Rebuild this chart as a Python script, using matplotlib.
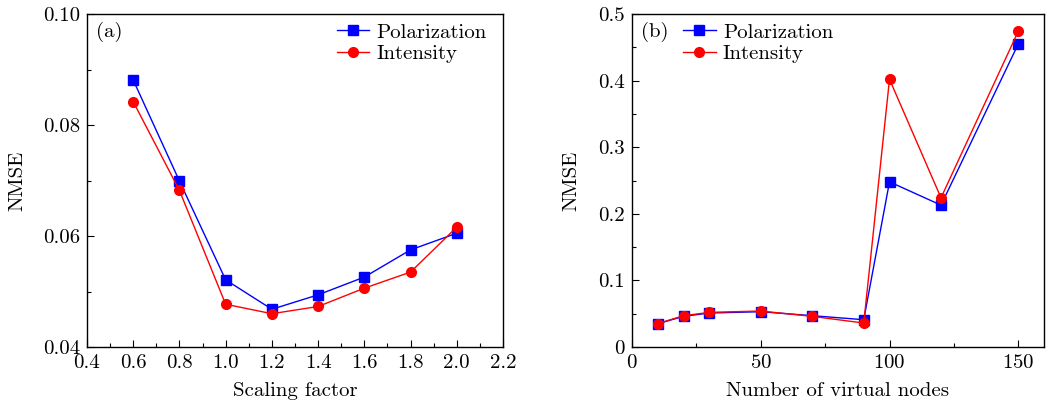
import matplotlib
matplotlib.use("Agg")
import matplotlib.pyplot as plt
from matplotlib.ticker import MultipleLocator, AutoMinorLocator, FormatStrFormatter, FuncFormatter

plt.rcParams["font.family"] = "serif"
plt.rcParams["font.serif"] = ["cmr10"]
plt.rcParams["mathtext.fontset"] = "cm"
plt.rcParams["axes.formatter.use_mathtext"] = True

# (a) NMSE vs scaling factor
scaling = [0.6, 0.8, 1.0, 1.2, 1.4, 1.6, 1.8, 2.0]
pol_a = [0.0881, 0.0699, 0.0521, 0.0468, 0.0494, 0.0526, 0.0575, 0.0605]
int_a = [0.0842, 0.0682, 0.0477, 0.0460, 0.0473, 0.0506, 0.0535, 0.0616]

# (b) NMSE vs number of virtual nodes
nodes = [10, 20, 30, 50, 70, 90, 100, 120, 150]
pol_b = [0.035, 0.046, 0.051, 0.053, 0.047, 0.041, 0.248, 0.213, 0.455]
int_b = [0.035, 0.047, 0.052, 0.054, 0.046, 0.036, 0.402, 0.224, 0.474]

W, H = 1046, 405
fig = plt.figure(figsize=(W / 100, H / 100), dpi=100)
ax1 = fig.add_axes([87 / W, (H - 347) / H, (503 - 87) / W, 333 / H])
ax2 = fig.add_axes([632 / W, (H - 347) / H, (1044 - 632) / W, 333 / H])

fs = 15
for ax, x, p, i, tag in [(ax1, scaling, pol_a, int_a, "(a)"),
                          (ax2, nodes, pol_b, int_b, "(b)")]:
    ax.plot(x, p, color="#0000ff", marker="s", ms=6.5, lw=1.0, label="Polarization")
    ax.plot(x, i, color="#ff0000", marker="o", ms=7, lw=1.0, label="Intensity")
    ax.tick_params(which="both", direction="in", labelsize=fs, top=False, right=False)
    ax.tick_params(which="major", length=5, width=0.8, pad=5)
    ax.tick_params(which="minor", length=3, width=0.8)
    ax.set_ylabel("NMSE", fontsize=fs)
    ax.text(0.022, 0.975, tag, transform=ax.transAxes, fontsize=fs, va="top", ha="left")
    for s in ax.spines.values():
        s.set_linewidth(1.0)

ax1.set_xlim(0.4, 2.2)
ax1.set_ylim(0.04, 0.10)
ax1.xaxis.set_major_locator(MultipleLocator(0.2))
ax1.xaxis.set_minor_locator(AutoMinorLocator(2))
ax1.yaxis.set_major_locator(MultipleLocator(0.02))
ax1.yaxis.set_minor_locator(AutoMinorLocator(2))
ax1.xaxis.set_major_formatter(FormatStrFormatter("%.1f"))
ax1.yaxis.set_major_formatter(FormatStrFormatter("%.2f"))
ax1.set_xlabel("Scaling factor", fontsize=fs)
ax1.yaxis.set_label_coords(-0.146, 0.5)
ax1.xaxis.set_label_coords(0.5, -0.105)
ax1.legend(loc="upper left", bbox_to_anchor=(0.571, 1.01), frameon=False, fontsize=fs,
           handlelength=1.55, borderaxespad=0.2, handletextpad=0.35, labelspacing=0.15)

ax2.set_xlim(0, 160)
ax2.set_ylim(0, 0.5)
ax2.xaxis.set_major_locator(MultipleLocator(50))
ax2.xaxis.set_minor_locator(AutoMinorLocator(2))
ax2.yaxis.set_major_locator(MultipleLocator(0.1))
ax2.yaxis.set_minor_locator(AutoMinorLocator(2))
ax2.yaxis.set_major_formatter(FuncFormatter(
    lambda v, _: "0" if abs(v) < 1e-9 else f"{v:.1f}"))
ax2.set_xlabel("Number of virtual nodes", fontsize=fs)
ax2.yaxis.set_label_coords(-0.126, 0.5)
ax2.xaxis.set_label_coords(0.5, -0.105)
ax2.legend(loc="upper left", bbox_to_anchor=(0.094, 1.01), frameon=False, fontsize=fs,
           handlelength=1.55, borderaxespad=0.2, handletextpad=0.35, labelspacing=0.15)

fig.savefig("out.png", dpi=100)
